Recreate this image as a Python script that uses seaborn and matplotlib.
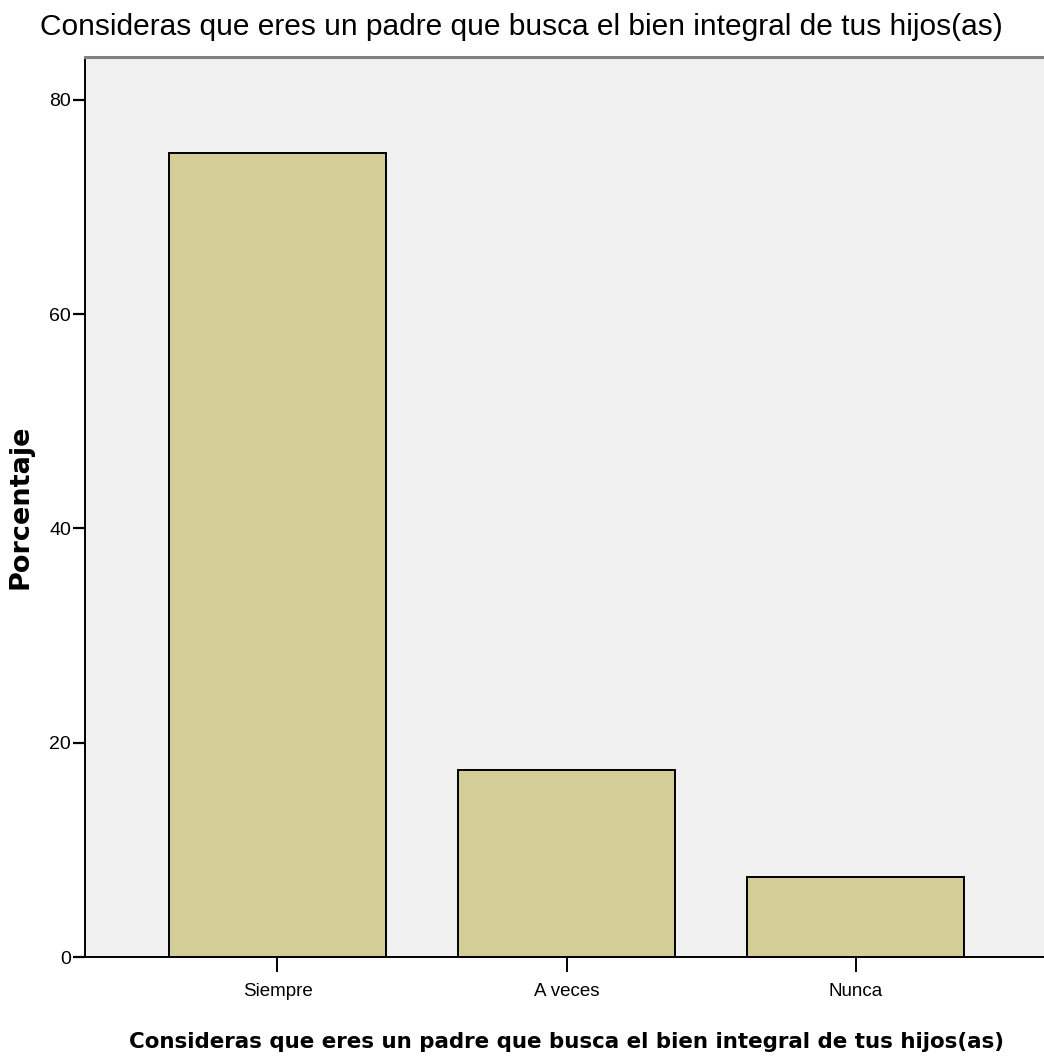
import matplotlib
matplotlib.use("Agg")
import matplotlib.pyplot as plt
import seaborn as sns
import pandas as pd

categorias = ["Siempre", "A veces", "Nunca"]
porcentajes = [75.0, 17.5, 7.5]
y_ticks = [0, 20, 40, 60, 80]

titulo = "Consideras que eres un padre que busca el bien integral de tus hijos(as)"

bar_color = "#D3CE97"
bg_color = "#F0F0F0"

sns.set_style("white")
plt.rcParams["font.family"] = ["Liberation Sans", "DejaVu Sans"]
plt.rcParams["text.color"] = "black"
plt.rcParams["axes.labelcolor"] = "black"
plt.rcParams["xtick.color"] = "black"
plt.rcParams["ytick.color"] = "black"

df = pd.DataFrame({"cat": categorias, "pct": porcentajes})

fig = plt.figure(figsize=(10.44, 10.61), dpi=100)
ax = fig.add_axes([85 / 1044, 104 / 1061, (1048 - 85) / 1044, 900 / 1061])
ax.set_facecolor(bg_color)

sns.barplot(data=df, x="cat", y="pct", color=bar_color, edgecolor="black",
            linewidth=1.4, width=0.75, saturation=1, ax=ax)

ax.set_xlim(-0.666, 2.666)
ax.set_ylim(0, 84)
ax.set_yticks(y_ticks)
ax.set_yticklabels([str(t) for t in y_ticks], fontsize=14)
ax.tick_params(axis="x", bottom=True, labelsize=13.5, length=11, width=1.4, pad=8)
ax.tick_params(axis="y", left=True, length=9, width=1.6, pad=1)

for s in ["left", "bottom"]:
    ax.spines[s].set_color("black")
    ax.spines[s].set_linewidth(1.4)
ax.spines["top"].set_color("#808080")
ax.spines["top"].set_linewidth(2.2)
ax.spines["right"].set_visible(False)

ax.set_ylabel("Porcentaje", fontsize=19.5, fontweight="bold", family="DejaVu Sans", labelpad=11)
ax.set_xlabel(titulo, fontsize=15.4, fontweight="bold", family="DejaVu Sans", labelpad=23)

fig.text(0.499, 1 - 35 / 1061, titulo, ha="center", va="baseline", fontsize=21.5)

fig.savefig("out.png", dpi=100)
